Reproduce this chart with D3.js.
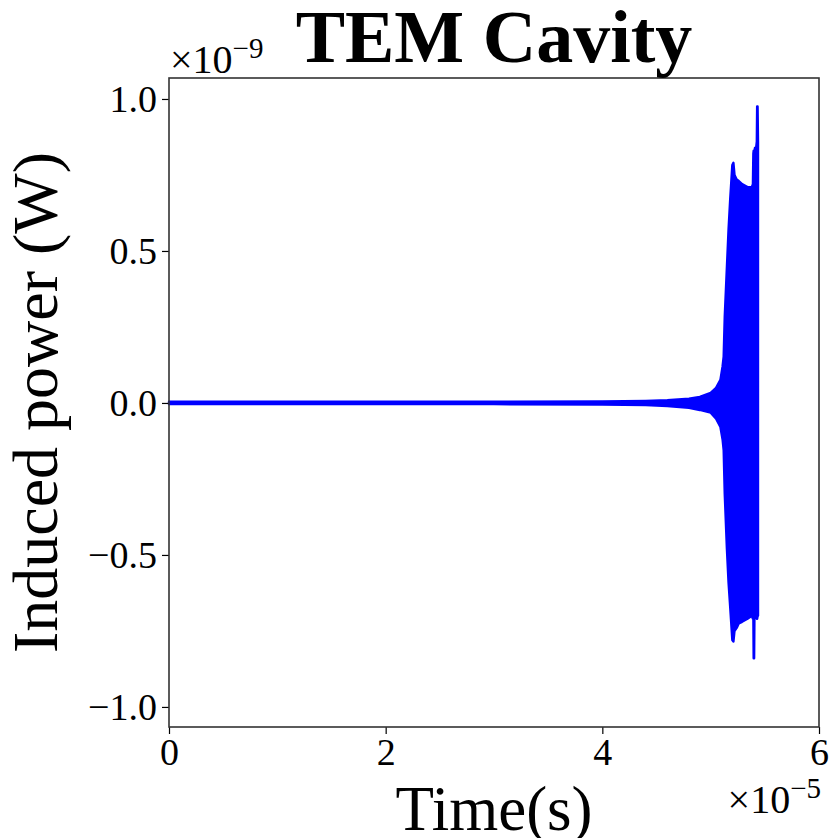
<!DOCTYPE html>
<html>
<head>
<meta charset="utf-8">
<script src="https://cdn.jsdelivr.net/npm/d3@7"></script>
<style>
  html, body { margin: 0; padding: 0; background: #fff; }
  svg { display: block; font-family: "Liberation Serif", "DejaVu Serif", serif; }
</style>
</head>
<body>
<svg id="chart" width="834" height="838"></svg>
<script>
// Time in units of 1e-5 s, power in units of 1e-9 W (envelope of the oscillating trace)
const time  = [0, 1, 2, 3, 4, 4.4, 4.6, 4.8, 4.9, 5.0, 5.05, 5.09, 5.11, 5.12, 5.13, 5.15, 5.165, 5.18, 5.20, 5.21, 5.22, 5.24, 5.26, 5.29, 5.34, 5.38, 5.39, 5.394, 5.397, 5.401, 5.404, 5.41, 5.42, 5.426, 5.429, 5.433, 5.437];
const upper = [0.004, 0.004, 0.004, 0.004, 0.005, 0.007, 0.009, 0.014, 0.02, 0.033, 0.05, 0.076, 0.12, 0.152, 0.284, 0.448, 0.57, 0.668, 0.783, 0.79, 0.75, 0.735, 0.73, 0.72, 0.71, 0.71, 0.72, 0.82, 0.83, 0.83, 0.83, 0.84, 0.84, 0.86, 0.975, 0.975, 0.86];
const lower = [-0.004, -0.004, -0.004, -0.004, -0.005, -0.007, -0.010, -0.016, -0.023, -0.032, -0.052, -0.079, -0.12, -0.155, -0.30, -0.48, -0.59, -0.67, -0.78, -0.785, -0.75, -0.74, -0.725, -0.72, -0.71, -0.70, -0.71, -0.70, -0.84, -0.84, -0.70, -0.70, -0.70, -0.71, -0.71, -0.70, -0.70];

const xTicks = [0, 2, 4, 6];
const yTicks = [-1.0, -0.5, 0.0, 0.5, 1.0];
const xDomain = [0, 6];
const yDomain = [-1.066, 1.069];

const title = "TEM Cavity";
const xLabel = "Time(s)";
const yLabel = "Induced power (W)";

const svg = d3.select("#chart");
const L = 169, T = 78, W = 650, H = 649;

const x = d3.scaleLinear().domain(xDomain).range([L, L + W]);
const y = d3.scaleLinear().domain(yDomain).range([T + H, T]);

const data = time.map((t, i) => ({ t, hi: upper[i], lo: lower[i] }));

// signal envelope
const area = d3.area()
  .x(d => x(d.t))
  .y0(d => y(d.lo))
  .y1(d => y(d.hi));

svg.append("path")
  .datum(data)
  .attr("d", area)
  .attr("fill", "#0000ff")
  .attr("stroke", "#0000ff")
  .attr("stroke-width", 2.4)
  .attr("stroke-linejoin", "round");

// axes
const fmtY = d => (d < 0 ? "\u2212" : "") + Math.abs(d).toFixed(1);

const xAxis = d3.axisBottom(x).tickValues(xTicks).tickFormat(d3.format("d")).tickSize(7).tickPadding(4);
const yAxis = d3.axisLeft(y).tickValues(yTicks).tickFormat(fmtY).tickSize(7).tickPadding(5);

const gx = svg.append("g").attr("transform", `translate(0,${T + H})`).call(xAxis);
const gy = svg.append("g").attr("transform", `translate(${L},0)`).call(yAxis);
[gx, gy].forEach(g => {
  g.select(".domain").remove();
  g.selectAll(".tick line").attr("stroke", "#000").attr("stroke-width", 1.2);
  g.selectAll(".tick text")
    .attr("font-family", "Liberation Serif, DejaVu Serif, serif")
    .attr("font-size", 38)
    .attr("fill", "#000");
});
gy.selectAll(".tick text").attr("dy", "0.34em");

// frame
svg.append("rect")
  .attr("x", L).attr("y", T).attr("width", W).attr("height", H)
  .attr("fill", "none").attr("stroke", "#333").attr("stroke-width", 1.6);

// title
svg.append("text")
  .attr("x", L + W / 2).attr("y", 62)
  .attr("text-anchor", "middle")
  .attr("font-size", 74).attr("font-weight", "bold")
  .text(title);

// x label
svg.append("text")
  .attr("x", L + W / 2).attr("y", 830)
  .attr("text-anchor", "middle")
  .attr("font-size", 63)
  .text(xLabel);

// y label
svg.append("text")
  .attr("transform", `translate(57,${T + H / 2}) rotate(-90)`)
  .attr("text-anchor", "middle")
  .attr("font-size", 64)
  .text(yLabel);

// offset texts
const off1 = svg.append("text").attr("x", 170).attr("y", 73).attr("font-size", 40);
off1.append("tspan").text("\u00d710");
off1.append("tspan").attr("dy", -15).attr("font-size", 29).text("\u22129");

const off2 = svg.append("text").attr("x", 821).attr("y", 813).attr("font-size", 40).attr("text-anchor", "end");
off2.append("tspan").text("\u00d710");
off2.append("tspan").attr("dy", -15).attr("font-size", 29).text("\u22125");
</script>
</body>
</html>
